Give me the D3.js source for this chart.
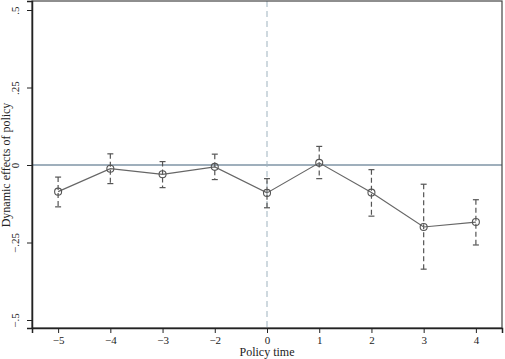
<!DOCTYPE html>
<html>
<head>
<meta charset="utf-8">
<script src="https://cdnjs.cloudflare.com/ajax/libs/d3/7.8.5/d3.min.js"></script>
<style>
  body { margin: 0; background: #fff; }
  text { font-family: "Liberation Serif", "Times New Roman", serif; fill: #222; }
</style>
</head>
<body>
<div id="chart"></div>
<script>
const periods = ["-5", "-4", "-3", "-2", "0", "1", "2", "3", "4"];
const estimates = [-0.086, -0.012, -0.030, -0.006, -0.090, 0.007, -0.089, -0.200, -0.184];
const upperCI = [-0.039, 0.036, 0.011, 0.035, -0.044, 0.060, -0.015, -0.062, -0.112];
const lowerCI = [-0.135, -0.060, -0.073, -0.047, -0.138, -0.044, -0.165, -0.336, -0.258];
const yTicks = [-0.5, -0.25, 0, 0.25, 0.5];
const yTickLabels = ["-.5", "-.25", "0", ".25", ".5"];

const data = periods.map((p, i) => ({
  period: p,
  est: estimates[i],
  hi: upperCI[i],
  lo: lowerCI[i]
}));

const width = 505, height = 359;
const margin = { top: 1, right: 3, bottom: 31, left: 32 };

const svg = d3.select("#chart")
  .append("svg")
  .attr("width", width)
  .attr("height", height);

const x = d3.scalePoint()
  .domain(periods)
  .range([margin.left, width - margin.right])
  .padding(0.5);

const y = d3.scaleLinear()
  .domain([-0.5 - 8 / 310, 0.5 + 9 / 310])
  .range([height - margin.bottom, margin.top]);

// zero line
svg.append("line")
  .attr("x1", margin.left).attr("x2", width - margin.right)
  .attr("y1", y(0)).attr("y2", y(0))
  .style("stroke", "#7f95a6")
  .style("stroke-width", 1.3);

// policy line at 0
svg.append("line")
  .attr("x1", x("0")).attr("x2", x("0"))
  .attr("y1", margin.top).attr("y2", height - margin.bottom)
  .style("stroke", "#9fb3bf")
  .style("stroke-width", 1)
  .style("stroke-dasharray", "6,4");

// error bars
const bars = svg.append("g").selectAll("g")
  .data(data)
  .enter()
  .append("g")
  .style("stroke", "#555")
  .style("stroke-width", 1.2);

bars.append("line")
  .attr("x1", d => x(d.period)).attr("x2", d => x(d.period))
  .attr("y1", d => y(d.hi)).attr("y2", d => y(d.lo))
  .style("stroke-dasharray", "5,3");

bars.append("line")
  .attr("x1", d => x(d.period) - 3).attr("x2", d => x(d.period) + 3)
  .attr("y1", d => y(d.hi)).attr("y2", d => y(d.hi));

bars.append("line")
  .attr("x1", d => x(d.period) - 3).attr("x2", d => x(d.period) + 3)
  .attr("y1", d => y(d.lo)).attr("y2", d => y(d.lo));

// connecting line
svg.append("path")
  .datum(data)
  .attr("fill", "none")
  .attr("stroke", "#666")
  .attr("stroke-width", 1.2)
  .attr("d", d3.line().x(d => x(d.period)).y(d => y(d.est)));

// markers
svg.append("g").selectAll("circle")
  .data(data)
  .enter()
  .append("circle")
  .attr("cx", d => x(d.period))
  .attr("cy", d => y(d.est))
  .attr("r", 3.5)
  .attr("fill", "none")
  .attr("stroke", "#555")
  .attr("stroke-width", 1.1);

// frame
svg.append("rect")
  .attr("x", margin.left).attr("y", margin.top)
  .attr("width", width - margin.left - margin.right)
  .attr("height", height - margin.top - margin.bottom)
  .attr("fill", "none")
  .attr("stroke", "#444")
  .attr("stroke-width", 1.2);

// axes
const xAxis = svg.append("g")
  .attr("transform", `translate(0,${height - margin.bottom})`)
  .call(d3.axisBottom(x).tickSize(5).tickPadding(3)
    .tickFormat(d => d.replace("-", "\u2212")));
xAxis.select(".domain").attr("stroke", "#222").attr("stroke-width", 1.5);
xAxis.selectAll(".tick line").attr("stroke", "#222");
xAxis.selectAll(".tick text")
  .style("font-family", "Liberation Serif, serif")
  .style("font-size", "11px")
  .attr("fill", "#222");

const yAxis = svg.append("g")
  .attr("transform", `translate(${margin.left},0)`)
  .call(d3.axisLeft(y).tickValues(yTicks).tickSize(5)
    .tickFormat((d, i) => yTickLabels[i].replace("-", "\u2212")));
yAxis.select(".domain").attr("stroke", "#222").attr("stroke-width", 1.5);
yAxis.selectAll(".tick line").attr("stroke", "#222");
yAxis.selectAll(".tick text")
  .attr("x", null).attr("dy", null)
  .attr("transform", "translate(-13,0) rotate(-90)")
  .style("text-anchor", "middle")
  .style("font-family", "Liberation Serif, serif")
  .style("font-size", "11px")
  .attr("fill", "#222");

// titles
svg.append("text")
  .attr("x", x("0"))
  .attr("y", height - 3)
  .style("text-anchor", "middle")
  .style("font-size", "12px")
  .text("Policy time");

svg.append("text")
  .attr("transform", `translate(10,${y(0)}) rotate(-90)`)
  .style("text-anchor", "middle")
  .style("font-size", "12px")
  .text("Dynamic effects of policy");
</script>
</body>
</html>
